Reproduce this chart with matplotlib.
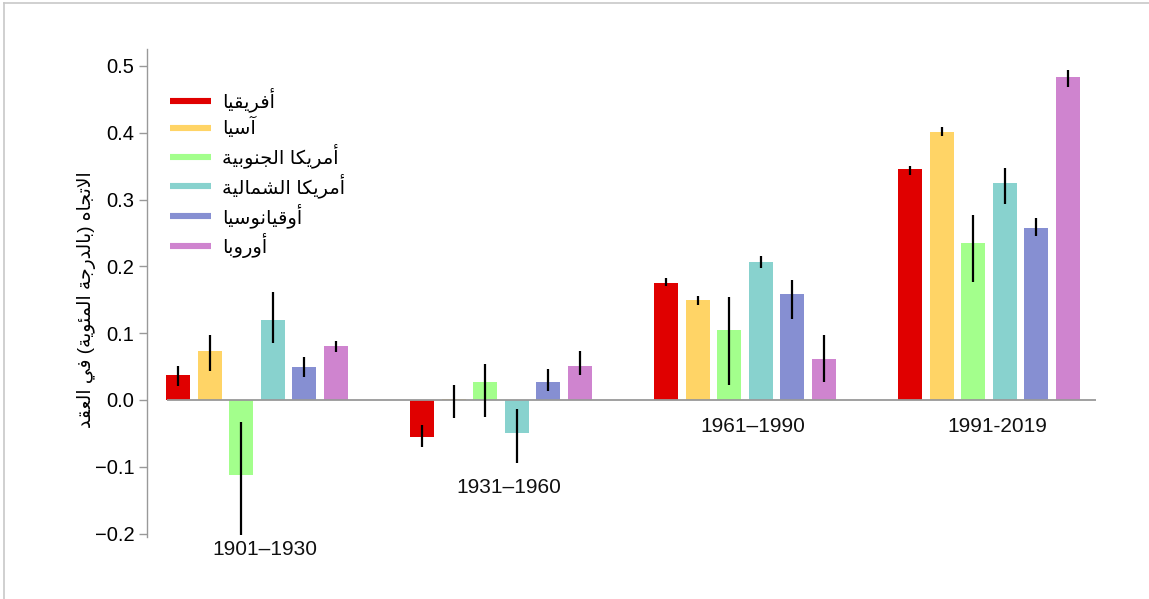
import matplotlib
matplotlib.use("Agg")
import matplotlib.pyplot as plt
from matplotlib.lines import Line2D

plt.rcParams['font.family'] = ['Liberation Sans', 'DejaVu Sans']

# decade trend per region, deg C per decade
periods = ["1901–1930", "1931–1960", "1961–1990", "1991-2019"]
regions = ["أفريقيا", "آسيا", "أمريكا الجنوبية", "أمريكا الشمالية", "أوقيانوسيا", "أوروبا"]
colors = ["#e00000", "#ffd466", "#a3ff8c", "#88d2ce", "#868fd2", "#cf84cf"]

africa = [0.037, -0.056, 0.175, 0.346]
asia = [0.073, 0.001, 0.150, 0.401]
s_america = [-0.112, 0.027, 0.105, 0.235]
n_america = [0.120, -0.049, 0.207, 0.325]
oceania = [0.049, 0.027, 0.159, 0.258]
europe = [0.081, 0.051, 0.061, 0.484]

# lower / upper ends of the uncertainty range
africa_lo = [0.021, -0.070, 0.170, 0.337]
africa_hi = [0.051, -0.038, 0.182, 0.350]
asia_lo = [0.044, -0.027, 0.142, 0.395]
asia_hi = [0.097, 0.023, 0.156, 0.409]
s_america_lo = [-0.202, -0.025, 0.022, 0.177]
s_america_hi = [-0.033, 0.054, 0.154, 0.277]
n_america_lo = [0.086, -0.095, 0.198, 0.293]
n_america_hi = [0.161, -0.013, 0.216, 0.348]
oceania_lo = [0.034, 0.014, 0.121, 0.245]
oceania_hi = [0.065, 0.046, 0.179, 0.272]
europe_lo = [0.072, 0.037, 0.027, 0.469]
europe_hi = [0.088, 0.073, 0.097, 0.494]

values = [africa, asia, s_america, n_america, oceania, europe]
lows = [africa_lo, asia_lo, s_america_lo, n_america_lo, oceania_lo, europe_lo]
highs = [africa_hi, asia_hi, s_america_hi, n_america_hi, oceania_hi, europe_hi]

period_label_y = [-0.224, -0.131, -0.039, -0.039]
ylabel = "الاتجاه (بالدرجة المئوية) في العقد"


# --- minimal arabic shaping (matplotlib has no text shaping / bidi) ---
FORMS = {  # isolated, final, initial, medial
    "\u0622": (0xFE81, 0xFE82, None, None),
    "\u0623": (0xFE83, 0xFE84, None, None),
    "\u0625": (0xFE87, 0xFE88, None, None),
    "\u0626": (0xFE89, 0xFE8A, 0xFE8B, 0xFE8C),
    "\u0627": (0xFE8D, 0xFE8E, None, None),
    "\u0628": (0xFE8F, 0xFE90, 0xFE91, 0xFE92),
    "\u0629": (0xFE93, 0xFE94, None, None),
    "\u062A": (0xFE95, 0xFE96, 0xFE97, 0xFE98),
    "\u062C": (0xFE9D, 0xFE9E, 0xFE9F, 0xFEA0),
    "\u062F": (0xFEA9, 0xFEAA, None, None),
    "\u0631": (0xFEAD, 0xFEAE, None, None),
    "\u0633": (0xFEB1, 0xFEB2, 0xFEB3, 0xFEB4),
    "\u0634": (0xFEB5, 0xFEB6, 0xFEB7, 0xFEB8),
    "\u0639": (0xFEC9, 0xFECA, 0xFECB, 0xFECC),
    "\u0641": (0xFED1, 0xFED2, 0xFED3, 0xFED4),
    "\u0642": (0xFED5, 0xFED6, 0xFED7, 0xFED8),
    "\u0643": (0xFED9, 0xFEDA, 0xFEDB, 0xFEDC),
    "\u0644": (0xFEDD, 0xFEDE, 0xFEDF, 0xFEE0),
    "\u0645": (0xFEE1, 0xFEE2, 0xFEE3, 0xFEE4),
    "\u0646": (0xFEE5, 0xFEE6, 0xFEE7, 0xFEE8),
    "\u0647": (0xFEE9, 0xFEEA, 0xFEEB, 0xFEEC),
    "\u0648": (0xFEED, 0xFEEE, None, None),
    "\u064A": (0xFEF1, 0xFEF2, 0xFEF3, 0xFEF4),
}
LAM_ALEF = {"\u0622": (0xFEF5, 0xFEF6), "\u0623": (0xFEF7, 0xFEF8),
            "\u0625": (0xFEF9, 0xFEFA), "\u0627": (0xFEFB, 0xFEFC)}
MIRROR = {"(": ")", ")": "("}


def shape(text):
    # merge lam + alef into one unit first
    units = []
    i = 0
    while i < len(text):
        c = text[i]
        if c == "\u0644" and i + 1 < len(text) and text[i + 1] in LAM_ALEF:
            units.append(("LA", text[i + 1]))
            i += 2
        else:
            units.append(("C", c))
            i += 1

    def joins_next(u):  # can connect to the following letter
        if u[0] == "LA":
            return False
        f = FORMS.get(u[1])
        return f is not None and f[2] is not None

    def joins_prev(u):  # can connect to the preceding letter
        return u[0] == "LA" or u[1] in FORMS

    out = []
    for k, u in enumerate(units):
        prev_j = k > 0 and joins_next(units[k - 1]) and joins_prev(u)
        next_j = k + 1 < len(units) and joins_next(u) and joins_prev(units[k + 1])
        if u[0] == "LA":
            iso, fin = LAM_ALEF[u[1]]
            out.append(chr(fin if prev_j else iso))
            continue
        f = FORMS.get(u[1])
        if f is None:
            out.append(u[1])
        elif prev_j and next_j:
            out.append(chr(f[3]))
        elif prev_j:
            out.append(chr(f[1]))
        elif next_j:
            out.append(chr(f[2]))
        else:
            out.append(chr(f[0]))
    return "".join(MIRROR.get(c, c) for c in reversed(out))


fig = plt.figure(figsize=(11.49, 5.99), dpi=100)
ax = fig.add_axes([147 / 1149, 62 / 599, 953 / 1149, 488 / 599])

pitch = 0.1295
width = 0.098
for j, (vals, lo, hi, col) in enumerate(zip(values, lows, highs, colors)):
    xs = [i + (j - 2.5) * pitch for i in range(len(periods))]
    ax.bar(xs, vals, width=width, color=col, zorder=2)
    ax.vlines(xs, lo, hi, color="black", lw=1.6, zorder=4)

ax.hlines(0, -0.369, 3.439, color="#999999", lw=1.3, zorder=3)

for i, (p, y) in enumerate(zip(periods, period_label_y)):
    ax.text(i + 0.033, y, p, ha="center", va="center", fontsize=15, color="#111111")

ax.set_xlim(-0.4508, 3.4549)
ax.set_ylim(-0.2051, 0.5254)
ax.set_xticks([])
ax.set_yticks([-0.2, -0.1, 0.0, 0.1, 0.2, 0.3, 0.4, 0.5])
ax.set_yticklabels(["−0.2", "−0.1", "0.0", "0.1", "0.2", "0.3", "0.4", "0.5"])
ax.tick_params(axis="y", length=6, width=1, color="#999999", labelsize=14.5, pad=3)
for side in ["top", "right", "bottom"]:
    ax.spines[side].set_visible(False)
ax.spines["left"].set_color("#999999")
ax.spines["left"].set_linewidth(1)
ax.set_ylabel(shape(ylabel), fontsize=13.5, va="center")
ax.yaxis.set_label_coords(-0.063, 0.486)

handles = [Line2D([0], [0], color=c, lw=4.4, solid_capstyle="butt") for c in colors]
ax.legend(handles, [shape(r) for r in regions], loc="upper left",
          bbox_to_anchor=(0.006, 0.957), frameon=False, fontsize=14,
          handlelength=2.1, handletextpad=0.55, labelspacing=0.26)

# thin frame along top and left edge of the image
fig.add_artist(Line2D([4 / 1149, 1], [1 - 3 / 599, 1 - 3 / 599], color="#c8c8c8", lw=1.2))
fig.add_artist(Line2D([4 / 1149, 4 / 1149], [0, 1 - 3 / 599], color="#c8c8c8", lw=1.2))

fig.savefig("out.png", dpi=100)
